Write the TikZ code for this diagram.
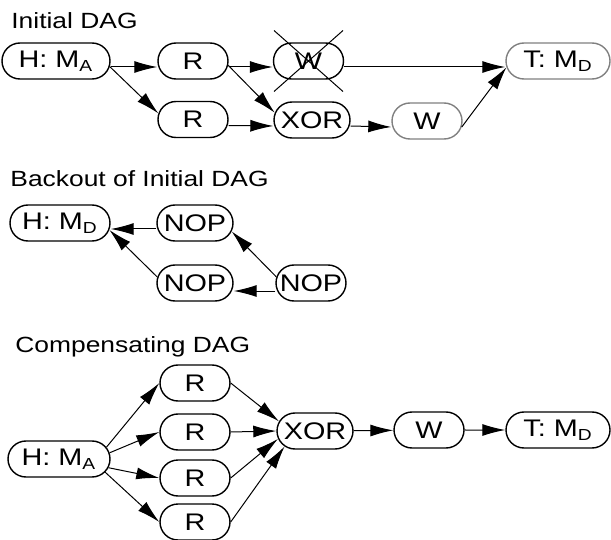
\documentclass[tikz,border=0pt]{standalone}
\usepackage{fontspec}
\setmainfont{Liberation Sans}[FakeStretch=1.2]
\usepackage{tikz}
\usetikzlibrary{shapes.misc,arrows.meta}

\begin{document}
\begin{tikzpicture}[x=0.5pt,y=-0.5pt,
	op/.style={draw,line width=0.7pt,rounded rectangle,minimum width=35pt,minimum height=18pt,inner sep=0pt,font=\fontsize{12}{14}\selectfont},
	heading/.style={anchor=base west,inner sep=0pt,font=\fontsize{11}{13}\selectfont},
	arr/.style={-{Latex[length=11.5pt,width=6pt]},line width=0.5pt}]
\useasboundingbox (0,0) rectangle (611,540);

% initial dag
\node[heading] (l1) at (11,29) {Initial DAG};
\node[op,minimum width=54pt] (h1) at (56,61) {H: M\textsubscript{A}};
\node[op] (r1) at (193,61) {R};
\node[op] (w1) at (308.5,61) {W};
\node[op] (r2) at (193,119.5) {R};
\node[op,minimum width=38pt] (x1) at (312,120) {XOR};
\node[op,draw=gray] (w2) at (427,121) {W};
\node[op,draw=gray,minimum width=52pt] (t1) at (558,61) {T: M\textsubscript{D}};
\draw[line width=0.5pt] ([shift={(-34.5,-30.5)}]w1.center) -- ([shift={(34.5,30.5)}]w1.center)
	([shift={(34.5,-30.5)}]w1.center) -- ([shift={(-34.5,30.5)}]w1.center);
\draw[arr] ([yshift=-3pt]h1.east) -- ([yshift=-3pt]r1.west);
\draw[arr] (h1.-6) -- (r2.170);
\draw[arr] ([yshift=-3pt]r1.east) -- ([yshift=-3pt]w1.west);
\draw[arr] (r1.-7) -- (x1.169);
\draw[arr] ([yshift=-3pt]r2.east) -- ([yshift=-3pt]x1.west);
\draw[arr] ([yshift=-3pt]w1.east) -- ([yshift=-3pt]t1.west);
\draw[arr] ([yshift=-3pt]x1.east) -- ([yshift=-3pt]w2.west);
\draw[arr] (w2.-10) -- (t1.187);

% backout
\node[heading] (l2) at (10,187) {Backout of Initial DAG};
\node[op,minimum width=50pt] (h2) at (60,223) {H: M\textsubscript{D}};
\node[op,minimum width=38pt] (n1) at (195,223) {NOP};
\node[op,minimum width=38pt] (n2) at (195,283) {NOP};
\node[op] (n3) at (311,283) {NOP};
\draw[arr] ([yshift=-3pt]n1.west) -- ([yshift=-3pt]h2.east);
\draw[arr] (n2.171) -- (h2.-8);
\draw[arr] (n3.170) -- (n1.-13);
\draw[arr] ([yshift=-4pt]n3.west) -- ([yshift=-4pt]n2.east);

% compensating dag
\node[heading] (l3) at (15,352) {Compensating DAG};
\node[op,minimum width=51pt] (h3) at (59,459) {H: M\textsubscript{A}};
\node[op] (c1) at (195,383) {R};
\node[op] (c2) at (195,432) {R};
\node[op] (c3) at (195,478) {R};
\node[op] (c4) at (195,522) {R};
\node[op,minimum width=38pt] (x3) at (315,431) {XOR};
\node[op] (w3) at (429,430) {W};
\node[op,minimum width=52pt] (t3) at (558,430) {T: M\textsubscript{D}};
\draw[arr] (h3.14) -- (c1.west);
\draw[arr] (h3.7) -- (c2.west);
\draw[arr] (h3.-10) -- (c3.west);
\draw[arr] (h3.-16) -- (c4.west);
\draw[arr] (c1.east) -- (x3.165);
\draw[arr] (c2.east) -- (x3.west);
\draw[arr] (c3.east) -- (x3.192);
\draw[arr] (c4.east) -- (x3.207);
\draw[arr] (x3) -- (w3);
\draw[arr] (w3) -- (t3);
\end{tikzpicture}
\end{document}
